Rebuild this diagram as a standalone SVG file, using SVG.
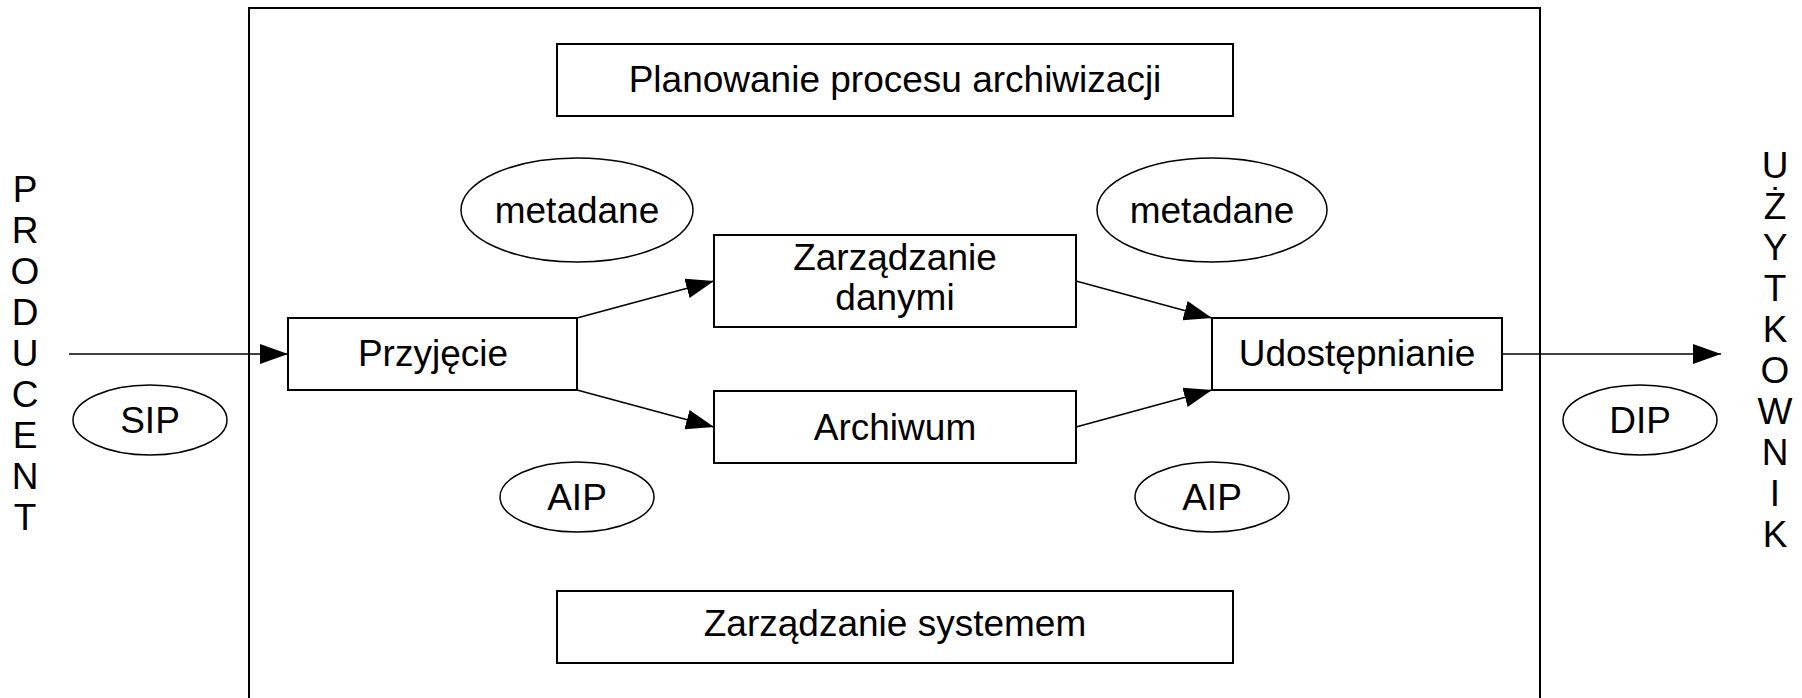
<svg xmlns="http://www.w3.org/2000/svg" width="1802" height="698" viewBox="0 0 1802 698">
<style>
.box{fill:#fff;stroke:#000;stroke-width:2}
.ell{fill:#fff;stroke:#000;stroke-width:1.5}
.frame{fill:none;stroke:#000;stroke-width:2}
.t{font-family:"Liberation Sans",Arial,sans-serif;font-size:37px;fill:#000;text-anchor:middle}
.c{stroke:#000;stroke-width:1.6;fill:none;marker-end:url(#ah)}
</style>
<defs>
<marker id="ah" markerUnits="userSpaceOnUse" markerWidth="30" markerHeight="22" refX="28" refY="10" orient="auto">
<path d="M0,0 L28,10 L0,20 z" fill="#000"/>
</marker>
</defs>
<rect width="1802" height="698" fill="#fff"/>
<g id="system">
<rect class="frame" x="249" y="8" width="1291" height="720"/>
</g>
<g id="producent">
<text class="t"><tspan x="25" y="202">P</tspan><tspan x="25" y="243">R</tspan><tspan x="25" y="284">O</tspan><tspan x="25" y="325">D</tspan><tspan x="25" y="366">U</tspan><tspan x="25" y="407">C</tspan><tspan x="25" y="448">E</tspan><tspan x="25" y="489">N</tspan><tspan x="25" y="530">T</tspan></text>
</g>
<g id="uzytkownik">
<text class="t"><tspan x="1775" y="178">U</tspan><tspan x="1775" y="219">Ż</tspan><tspan x="1775" y="260">Y</tspan><tspan x="1775" y="301">T</tspan><tspan x="1775" y="342">K</tspan><tspan x="1775" y="383">O</tspan><tspan x="1775" y="424">W</tspan><tspan x="1775" y="465">N</tspan><tspan x="1775" y="506">I</tspan><tspan x="1775" y="547">K</tspan></text>
</g>
<g id="planowanie">
<rect class="box" x="557" y="44" width="676" height="72"/>
<text class="t" x="895" y="92">Planowanie procesu archiwizacji</text>
</g>
<g id="zarzadzanie-systemem">
<rect class="box" x="557" y="591" width="676" height="72"/>
<text class="t" x="895" y="636">Zarządzanie systemem</text>
</g>
<g id="metadane-1">
<ellipse class="ell" cx="577" cy="210" rx="116" ry="52"/>
<text class="t" x="577" y="223">metadane</text>
</g>
<g id="metadane-2">
<ellipse class="ell" cx="1212" cy="210" rx="115" ry="52"/>
<text class="t" x="1212" y="223">metadane</text>
</g>
<g id="aip-1">
<ellipse class="ell" cx="577" cy="497" rx="77" ry="35"/>
<text class="t" x="577" y="510">AIP</text>
</g>
<g id="aip-2">
<ellipse class="ell" cx="1212" cy="497" rx="77" ry="35"/>
<text class="t" x="1212" y="510">AIP</text>
</g>
<g id="sip">
<ellipse class="ell" cx="150" cy="420" rx="77" ry="35"/>
<text class="t" x="150" y="433">SIP</text>
</g>
<g id="dip">
<ellipse class="ell" cx="1640" cy="420" rx="77" ry="35"/>
<text class="t" x="1640" y="433">DIP</text>
</g>
<g id="przyjecie">
<rect class="box" x="288" y="318" width="289" height="72"/>
<text class="t" x="433" y="366">Przyjęcie</text>
</g>
<g id="zarzadzanie-danymi">
<rect class="box" x="714" y="235" width="362" height="92"/>
<text class="t" x="895" y="270">Zarządzanie</text>
<text class="t" x="895" y="310">danymi</text>
</g>
<g id="archiwum">
<rect class="box" x="714" y="391" width="362" height="72"/>
<text class="t" x="895" y="440">Archiwum</text>
</g>
<g id="udostepnianie">
<rect class="box" x="1212" y="318" width="290" height="72"/>
<text class="t" x="1357" y="366">Udostępnianie</text>
</g>
<g id="connectors">
<line class="c" x1="69" y1="354" x2="288" y2="354"/>
<line class="c" x1="577" y1="318" x2="714" y2="281"/>
<line class="c" x1="577" y1="390" x2="714" y2="427"/>
<line class="c" x1="1076" y1="281" x2="1212" y2="318"/>
<line class="c" x1="1076" y1="427" x2="1212" y2="390"/>
<line class="c" x1="1502" y1="354" x2="1721" y2="354"/>
</g>
</svg>
